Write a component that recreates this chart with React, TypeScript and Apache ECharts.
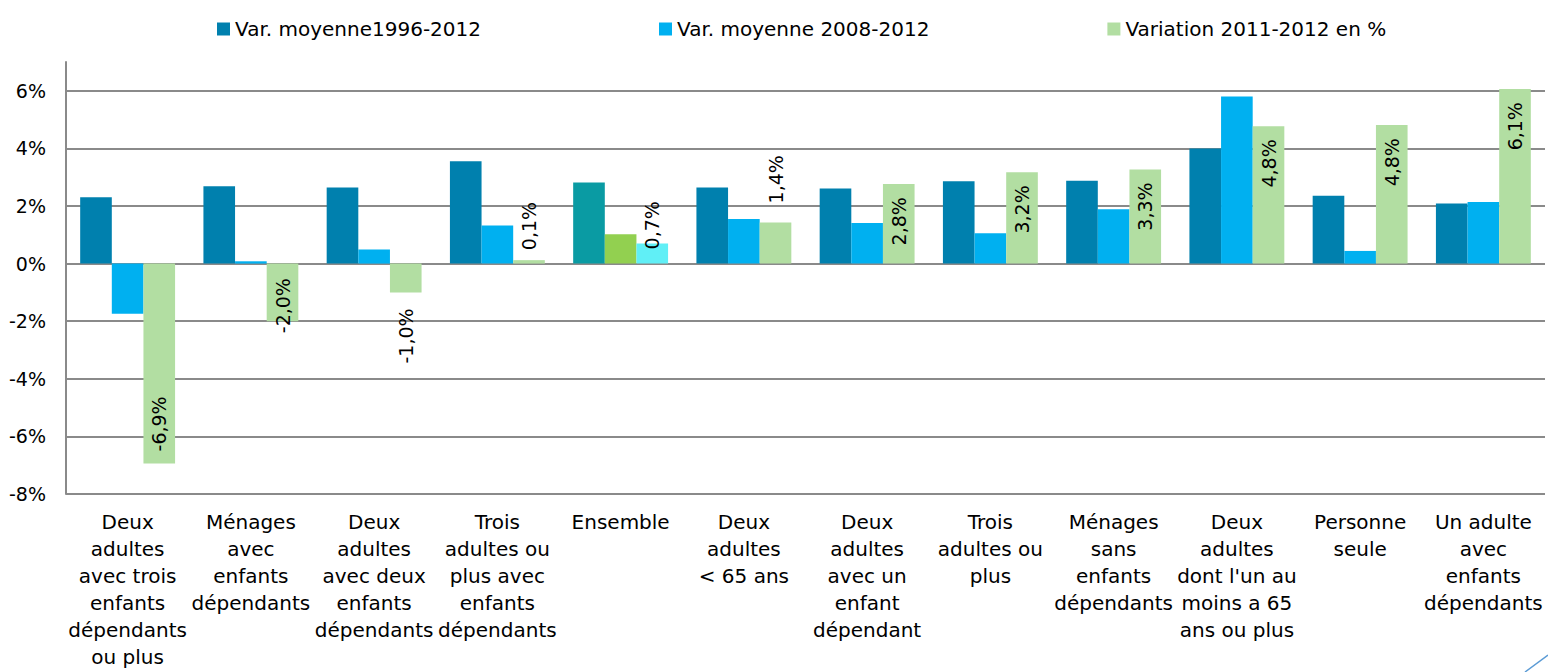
import { useEffect, useRef } from "react";
import * as echarts from "echarts";

const categories = [
  "Deux\nadultes\navec trois\nenfants\ndépendants\nou plus",
  "Ménages\navec\nenfants\ndépendants",
  "Deux\nadultes\navec deux\nenfants\ndépendants",
  "Trois\nadultes ou\nplus avec\nenfants\ndépendants",
  "Ensemble",
  "Deux\nadultes\n< 65 ans",
  "Deux\nadultes\navec un\nenfant\ndépendant",
  "Trois\nadultes ou\nplus",
  "Ménages\nsans\nenfants\ndépendants",
  "Deux\nadultes\ndont l'un au\nmoins a 65\nans ou plus",
  "Personne\nseule",
  "Un adulte\navec\nenfants\ndépendants",
];

const seriesNames = [
  "Var. moyenne1996-2012",
  "Var. moyenne 2008-2012",
  "Variation 2011-2012 en %",
];

const varMoy19962012 = [2.30, 2.69, 2.64, 3.55, 2.82, 2.64, 2.61, 2.86, 2.88, 4.0, 2.36, 2.09];
const varMoy20082012 = [-1.74, 0.08, 0.49, 1.32, 1.02, 1.55, 1.41, 1.05, 1.89, 5.80, 0.44, 2.14];
const var20112012 = [-6.94, -2.0, -1.0, 0.12, 0.7, 1.43, 2.76, 3.17, 3.27, 4.77, 4.81, 6.06];

const seriesColors = ["#0080AE", "#00B0F0", "#B2DEA2"];
const ensembleIndex = 4;
const ensembleColors = ["#0A9BA3", "#92D050", "#60EFF6"];

// label placement for the third series (style, not data)
const greenLabelPlacement: { position: string; distance: number; align: string }[] = [
  { position: "insideBottom", distance: 12, align: "left" },
  { position: "bottom", distance: 12, align: "left" },
  { position: "bottom", distance: 16, align: "right" },
  { position: "top", distance: 10, align: "left" },
  { position: "insideTop", distance: 6, align: "left" },
  { position: "top", distance: 19, align: "left" },
  { position: "insideTop", distance: 13, align: "right" },
  { position: "insideTop", distance: 13, align: "right" },
  { position: "insideTop", distance: 13, align: "right" },
  { position: "insideTop", distance: 13, align: "right" },
  { position: "insideTop", distance: 13, align: "right" },
  { position: "insideTop", distance: 13, align: "right" },
];

const FONT = "DejaVu Sans";

function fmtPct(v: number) {
  return v.toFixed(1).replace(".", ",") + "%";
}

export default function App() {
  const ref = useRef<HTMLDivElement>(null);

  useEffect(() => {
    if (!ref.current) return;
    const chart = echarts.init(ref.current, null, { renderer: "svg" });

    const build = (values: number[], sIdx: number, withLabels: boolean) =>
      values.map((v, i) => {
        const item: any = { value: v };
        if (i === ensembleIndex) item.itemStyle = { color: ensembleColors[sIdx] };
        if (withLabels) {
          const p = greenLabelPlacement[i];
          item.label = {
            show: true,
            position: p.position,
            distance: p.distance,
            align: p.align,
            verticalAlign: "middle",
            rotate: 90,
            formatter: () => fmtPct(v),
            color: "#000",
            fontFamily: FONT,
            fontSize: 19,
          };
        }
        return item;
      });

    const gridLine = { color: "#8a8a8a", width: 2 };

    chart.setOption({
      animation: false,
      backgroundColor: "#ffffff",
      textStyle: { fontFamily: FONT },
      legend: {
        left: 212,
        top: 14,
        itemWidth: 13,
        itemHeight: 13,
        itemGap: 178,
        icon: "rect",
        textStyle: { fontFamily: FONT, fontSize: 20, color: "#000", lineHeight: 20 },
        data: seriesNames,
      },
      grid: { left: 66, right: 3, top: 62, bottom: 178, containLabel: false },
      xAxis: {
        type: "category",
        data: categories,
        axisLine: { show: false, onZero: false },
        axisTick: { show: false },
        axisLabel: {
          interval: 0,
          margin: 14,
          fontFamily: FONT,
          fontSize: 20,
          lineHeight: 27,
          color: "#000",
          align: "center",
        },
      },
      yAxis: {
        type: "value",
        min: -8,
        max: 7,
        interval: 2,
        axisLine: { show: true, lineStyle: gridLine },
        axisTick: { show: false },
        axisLabel: {
          formatter: (v: number) => v + "%",
          fontFamily: FONT,
          fontSize: 19,
          color: "#000",
          margin: 20,
          showMaxLabel: false,
        },
        splitLine: { show: true, lineStyle: gridLine, showMaxLine: false },
      },
      series: [
        {
          name: seriesNames[0],
          type: "bar",
          barGap: "0%",
          barCategoryGap: "23%",
          itemStyle: { color: seriesColors[0] },
          data: build(varMoy19962012, 0, false),
        },
        {
          name: seriesNames[1],
          type: "bar",
          barGap: "0%",
          barCategoryGap: "23%",
          itemStyle: { color: seriesColors[1] },
          data: build(varMoy20082012, 1, false),
        },
        {
          name: seriesNames[2],
          type: "bar",
          barGap: "0%",
          barCategoryGap: "23%",
          itemStyle: { color: seriesColors[2] },
          data: build(var20112012, 2, true),
        },
      ],
      graphic: [
        {
          type: "line",
          shape: { x1: 1525, y1: 672, x2: 1548, y2: 655 },
          style: { stroke: "#5B9BD5", lineWidth: 1.5 },
          silent: true,
        },
      ],
    });

    return () => chart.dispose();
  }, []);

  return (
    <div
      ref={ref}
      style={{ position: "fixed", left: 0, top: 0, width: 1548, height: 672, background: "#fff" }}
    />
  );
}
